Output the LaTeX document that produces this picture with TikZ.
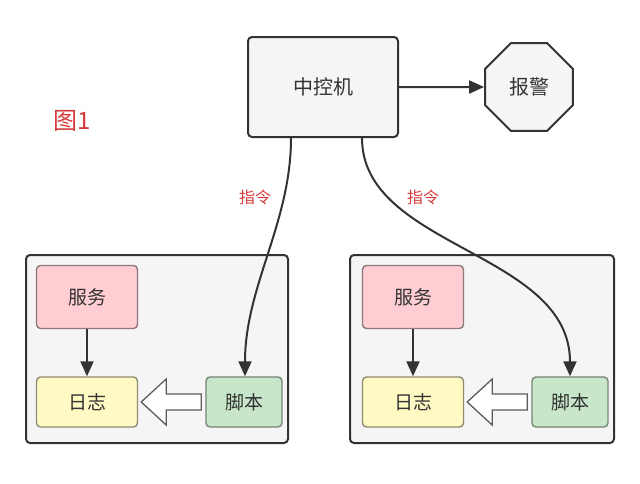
\documentclass[tikz,border=0pt]{standalone}
\usepackage{fontspec}
\newfontfamily\cjk{Noto Sans CJK SC}
\setmainfont{Liberation Sans}
\usetikzlibrary{arrows.meta,shapes.geometric,calc}
\definecolor{dark}{HTML}{333333}
\definecolor{boxbg}{HTML}{F5F5F5}
\definecolor{pinkbg}{HTML}{FFCDD2}
\definecolor{yellowbg}{HTML}{FFF9C4}
\definecolor{greenbg}{HTML}{C8E6C9}
\definecolor{redtxt}{HTML}{D63A3A}
\tikzset{
  box/.style={draw=dark, line width=2pt, fill=boxbg, rounded corners=4pt, inner sep=0pt},
  inbox/.style={draw=#1!45!dark, line width=1.4pt, rounded corners=4pt, inner sep=0pt,
    font=\cjk\fontsize{19}{21}\selectfont, text=dark},
  conn/.style={draw=dark, line width=2pt, -{Triangle[length=15pt,width=13pt]}},
  lbl/.style={font=\cjk\fontsize{16}{18}\selectfont, text=redtxt, inner sep=1pt},
  blockarrow/.style={draw=dark!80, line width=1.3pt, fill=white, line join=miter},
}
\begin{document}
\begin{tikzpicture}[x=1pt,y=-1pt]
\useasboundingbox (0,0) rectangle (640,483);
% containers
\node[box, minimum width=262pt, minimum height=188pt] (c1) at (157,349) {};
\node[box, minimum width=264pt, minimum height=188pt] (c2) at (482,349) {};
% top
\node[box, minimum width=150pt, minimum height=100pt, font=\cjk\fontsize{20}{22}\selectfont, text=dark] (zk) at (323,87) {中控机};
\node[draw=dark, line width=2pt, fill=boxbg, regular polygon, regular polygon sides=8,
  minimum size=95pt, inner sep=0pt, font=\cjk\fontsize{20}{22}\selectfont, text=dark] (bj) at (529,87) {报警};
\node[font=\cjk\fontsize{24}{26}\selectfont, text=redtxt] (t1) at (72,121) {图1};
% left group
\node[inbox=pinkbg, fill=pinkbg, minimum width=101pt, minimum height=63pt] (fw1) at (87,297) {服务};
\node[inbox=yellowbg, fill=yellowbg, minimum width=101pt, minimum height=50pt] (rz1) at (87,402) {日志};
\node[inbox=greenbg, fill=greenbg, minimum width=76pt, minimum height=50pt] (jb1) at (244,402) {脚本};
% right group
\node[inbox=pinkbg, fill=pinkbg, minimum width=101pt, minimum height=63pt] (fw2) at (413,297) {服务};
\node[inbox=yellowbg, fill=yellowbg, minimum width=101pt, minimum height=50pt] (rz2) at (413,402) {日志};
\node[inbox=greenbg, fill=greenbg, minimum width=76pt, minimum height=50pt] (jb2) at (570,402) {脚本};
% connectors
\draw[conn] (zk.east) -- (bj.west);
\draw[conn] (fw1.south) -- (rz1.north);
\draw[conn] (fw2.south) -- (rz2.north);
\coordinate (s1) at ($(zk.south west)+(44,0)$);
\coordinate (e1) at ($(jb1.north)+(1,0)$);
\draw[conn] (s1) .. controls ($(s1)+(0,85)$) and ($(e1)+(0,-90)$) .. (e1);
\coordinate (s2) at ($(zk.south west)+(115,0)$);
\coordinate (e2) at (jb2.north);
\draw[conn] (s2) .. controls ($(s2)+(0,110)$) and ($(e2)+(0,-125)$) .. (e2);
\node[lbl] (l1) at (255,197) {指令};
\node[lbl] (l2) at (423,197) {指令};
% block arrows
\foreach \a/\b in {jb1/rz1, jb2/rz2}{
  \coordinate (s) at ($(\a.west)+(-4,0)$);
  \coordinate (t) at ($(\b.east)+(3,0)$);
  \draw[blockarrow] ($(s)+(0,-8)$) -- ($(t)+(25,-8)$) -- ($(t)+(25,-23)$) -- (t)
    -- ($(t)+(25,23)$) -- ($(t)+(25,8)$) -- ($(s)+(0,8)$) -- cycle;
}
\end{tikzpicture}
\end{document}
